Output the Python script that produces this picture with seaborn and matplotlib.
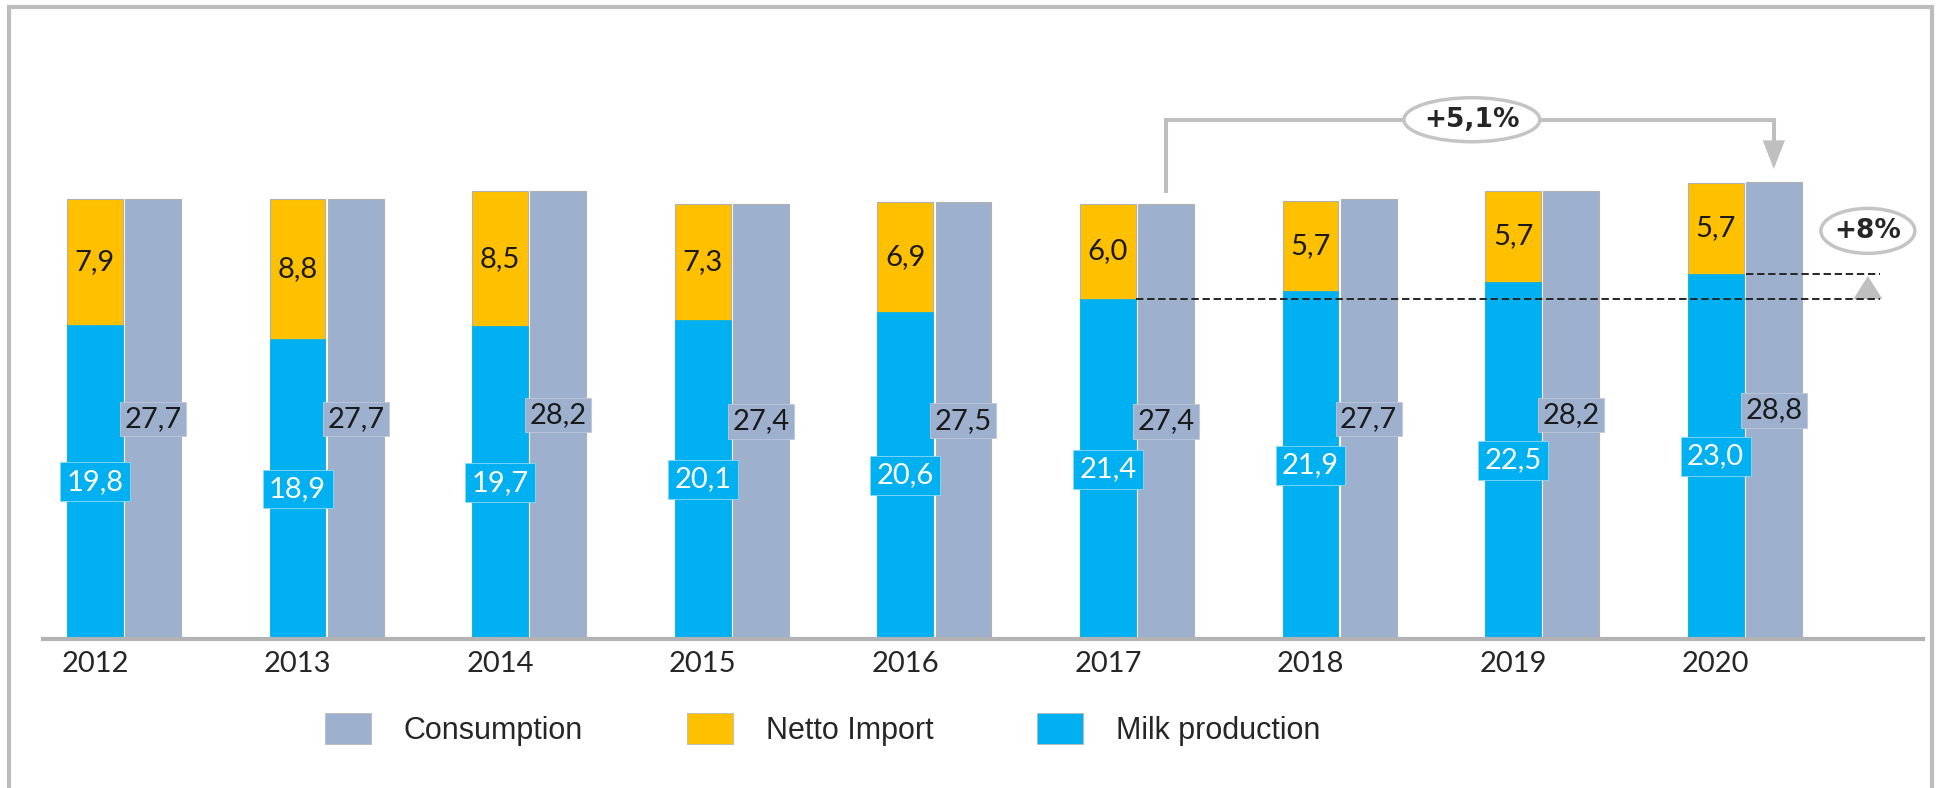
import numpy as np
import pandas as pd
import seaborn as sns
import matplotlib.pyplot as plt
from matplotlib.patches import Ellipse, Polygon, Patch
from matplotlib.lines import Line2D

# data (mln t)
years = ['2012', '2013', '2014', '2015', '2016', '2017', '2018', '2019', '2020']
milk_production = [19.8, 18.9, 19.7, 20.1, 20.6, 21.4, 21.9, 22.5, 23.0]
netto_import = [7.9, 8.8, 8.5, 7.3, 6.9, 6.0, 5.7, 5.7, 5.7]
consumption = [27.7, 27.7, 28.2, 27.4, 27.5, 27.4, 27.7, 28.2, 28.8]
legend_labels = ['Consumption', 'Netto Import', 'Milk production']
growth_consumption = '+5,1%'
growth_production = '+8%'

BLUE = '#00B0F0'
YELLOW = '#FFC000'
GREY = '#9DB0CE'
LINE_GREY = '#bfbfbf'

W = 0.574   # width of a year group
GAP = 0.04


def fmt(v):
    return f'{v:.1f}'.replace('.', ',')


def main():
    sns.set_style('white')
    plt.rcParams['font.family'] = ['Lato', 'DejaVu Sans']

    fig = plt.figure(figsize=(19.39, 7.88), dpi=100)
    ax = fig.add_axes([43 / 1939, 1 - 639 / 788, 1880 / 1939, 609 / 788])

    order = ['supply', 'consumption']
    supply = [p + i for p, i in zip(milk_production, netto_import)]
    top = pd.DataFrame({'year': years * 2,
                        'series': ['supply'] * len(years) + ['consumption'] * len(years),
                        'value': supply + consumption})
    prod = pd.DataFrame({'year': years, 'series': ['supply'] * len(years),
                         'value': milk_production})

    # yellow = production + import (behind), blue production drawn on top
    sns.barplot(data=top, x='year', y='value', hue='series', hue_order=order,
                palette={'supply': YELLOW, 'consumption': GREY}, width=W, gap=GAP,
                dodge=True, saturation=1, edgecolor='#b0b0b0', linewidth=0.8,
                errorbar=None, legend=False, ax=ax)
    sns.barplot(data=prod, x='year', y='value', hue='series', hue_order=order,
                palette={'supply': BLUE, 'consumption': GREY}, width=W, gap=GAP,
                dodge=True, saturation=1, edgecolor=BLUE, linewidth=0.5,
                errorbar=None, legend=False, ax=ax)

    off = W / 4
    bw = W / 2 * (1 - GAP)
    for i in range(len(years)):
        xb, xg = i - off, i + off
        ax.text(xb, milk_production[i] + netto_import[i] / 2, fmt(netto_import[i]),
                ha='center', va='center', fontsize=21, color='#1a1a1a')
        ax.text(xg, consumption[i] / 2, fmt(consumption[i]), ha='center', va='center',
                fontsize=21, color='#1a1a1a',
                bbox=dict(boxstyle='square,pad=0.15', fc=GREY, ec='#c0c8d8', lw=0.6))
        ax.text(xb, milk_production[i] / 2, fmt(milk_production[i]), ha='center',
                va='center', fontsize=21, color='white',
                bbox=dict(boxstyle='square,pad=0.22', fc=BLUE, ec='#8fd8f5', lw=0.6))

    # dashed reference lines and +8% marker
    x_end = 8.667
    ax.plot([5 - off + bw / 2, x_end], [milk_production[5]] * 2, color='#262626',
            lw=1.4, dashes=(3.8, 1.9))
    ax.plot([8 + off - bw / 2, x_end], [milk_production[8]] * 2, color='#262626',
            lw=1.4, dashes=(3.8, 1.9))
    xm = 8.608
    ax.add_patch(Polygon([[xm - 0.072, milk_production[5]], [xm + 0.072, milk_production[5]],
                          [xm, 22.86]], closed=True, fc=LINE_GREY, ec='none'))
    ax.add_patch(Ellipse((xm, 25.7), 0.464, 2.83, fc='white', ec='#c4c4c4', lw=2.5, zorder=5))
    ax.text(xm, 25.7, growth_production, ha='center', va='center', fontsize=19,
            fontweight='bold', family='DejaVu Sans', zorder=6)

    # bracket 2017 -> 2020 consumption
    x1, x2 = 5 + off, 8 + off
    y_top = 32.7
    ax.plot([x1, x1, x2, x2], [consumption[5] + 0.7, y_top, y_top, 31.3],
            color=LINE_GREY, lw=2.9, solid_joinstyle='miter', solid_capstyle='butt')
    ax.add_patch(Polygon([[x2 - 0.055, 31.4], [x2 + 0.055, 31.4], [x2, 29.6]],
                         closed=True, fc=LINE_GREY, ec='none'))
    ax.add_patch(Ellipse((6.653, y_top), 0.671, 2.77, fc='white', ec='#c4c4c4', lw=2.5, zorder=5))
    ax.text(6.653, y_top, growth_consumption, ha='center', va='center', fontsize=19,
            fontweight='bold', family='DejaVu Sans', zorder=6)

    ax.set_xlim(-0.40, 8.88)
    ax.set_ylim(0, 609 / 15.88)
    ax.set_xticks(np.arange(len(years)) - off, labels=years)
    ax.set_xlabel('')
    ax.set_ylabel('')
    ax.set_yticks([])
    for s in ['left', 'top', 'right']:
        ax.spines[s].set_visible(False)
    ax.spines['bottom'].set_color('#b3b3b3')
    ax.spines['bottom'].set_linewidth(3)
    ax.tick_params(axis='x', length=0, pad=9, labelsize=21, labelcolor='#262626')

    handles = [Patch(facecolor=c, edgecolor='#b8b8b8', lw=0.6) for c in (GREY, YELLOW, BLUE)]
    fig.legend(handles, legend_labels, ncol=3, loc='upper left',
               bbox_to_anchor=(325 / 1939, 1 - 713 / 788), frameon=False,
               prop={'family': ['Liberation Sans', 'DejaVu Sans'], 'size': 22},
               handlelength=1.5, handleheight=1.2, handletextpad=1.08,
               columnspacing=3.4, borderpad=0, borderaxespad=0)

    # outer frame (left, top, right)
    xl, xr, yt = 9 / 1939, 1932 / 1939, 1 - 7 / 788
    fig.add_artist(Line2D([xl, xl, xr, xr], [0, yt, yt, 0], transform=fig.transFigure,
                          color='#bdbdbd', lw=3, solid_joinstyle='miter'))

    fig.savefig('out.png', dpi=100)


if __name__ == '__main__':
    main()
